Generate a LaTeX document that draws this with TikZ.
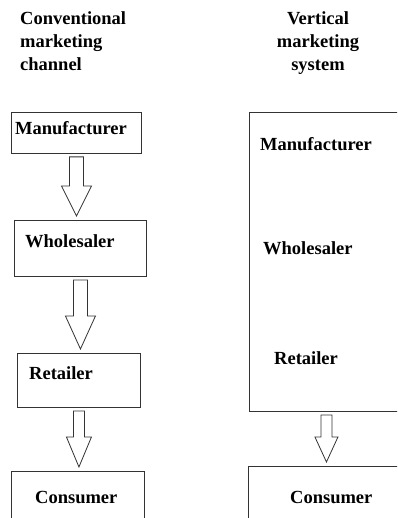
\documentclass[tikz,border=0pt]{standalone}
\usepackage{fontspec}
\setmainfont{Liberation Serif}
\usetikzlibrary{calc}

% block arrow between two boxes: shaft half width, head half width, head length, from, to
\newcommand{\flowarrow}[5]{%
  \draw[blockarrow] let \p1=($(#4.south)+(0,3)$), \p2=($(#5.north)+(0,-4)$) in
    (\x1-#1pt,\y1) -- (\x1+#1pt,\y1) -- (\x1+#1pt,\y2+#3pt) -- (\x1+#2pt,\y2+#3pt)
    -- (\x1,\y2) -- (\x1-#2pt,\y2+#3pt) -- (\x1-#1pt,\y2+#3pt) -- cycle;}

\begin{document}
\begin{tikzpicture}[
    x=1pt, y=-1pt,
    box/.style={draw=black!80, line width=0.9pt, minimum width=#1, anchor=north west, inner sep=0pt},
    box/.default=130pt,
    txt/.style={font=\fontsize{18.5}{23}\selectfont\bfseries, inner sep=0pt, anchor=base west},
    blockarrow/.style={draw=black!80, line width=0.8pt, fill=white}
]
\useasboundingbox (0,0) rectangle (397,518);
\clip (0,0) rectangle (397,518);

% titles
\node[txt, anchor=north west, align=left] (convtitle) at (20,11) {Conventional\\marketing\\channel};
\node[txt, anchor=north, align=center] (vmstitle) at (318,11) {Vertical\\marketing\\system};

% conventional channel
\node[box=130pt, minimum height=41pt] (man) at (11,112) {};
\node[box=132pt, minimum height=56pt] (whole) at (14,220) {};
\node[box=123pt, minimum height=54pt] (ret) at (17,353) {};
\node[box=133pt, minimum height=70pt] (conL) at (11,471) {};
\node[txt] (manlbl) at (15,135) {Manufacturer};
\node[txt] (wholelbl) at (25,247) {Wholesaler};
\node[txt] (retlbl) at (29,379) {Retailer};
\node[txt] (conLlbl) at (35,503) {Consumer};

\flowarrow{7}{15}{30}{man}{whole}
\flowarrow{7}{15}{33}{whole}{ret}
\flowarrow{5.5}{12.5}{30}{ret}{conL}

% vertical marketing system
\node[box=154pt, minimum height=299pt] (vms) at (249,112) {};
\node[box=156pt, minimum height=70pt] (conR) at (248,466) {};
\node[txt] (vmsman) at (260,151) {Manufacturer};
\node[txt] (vmswhole) at (263,254) {Wholesaler};
\node[txt] (vmsret) at (274,364) {Retailer};
\node[txt] (conRlbl) at (290,503) {Consumer};

\flowarrow{5.5}{11.5}{25}{vms}{conR}
\end{tikzpicture}
\end{document}
